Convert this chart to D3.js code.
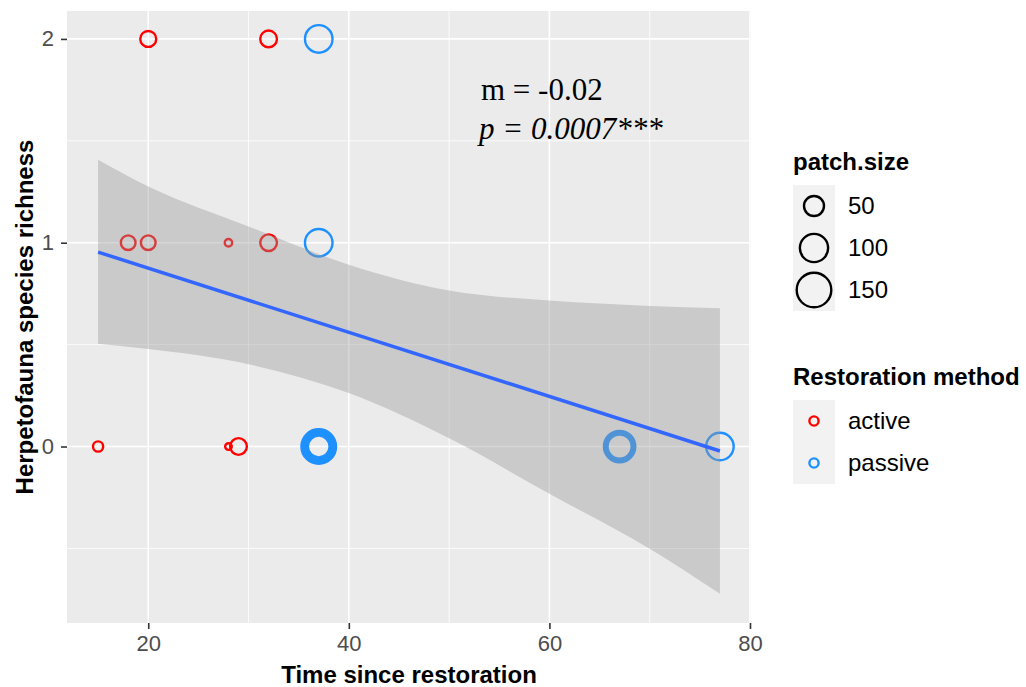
<!DOCTYPE html>
<html>
<head>
<meta charset="utf-8">
<script src="https://cdn.jsdelivr.net/npm/d3@7"></script>
<style>
  html, body { margin: 0; padding: 0; background: #ffffff; }
  svg { display: block; }
  text { font-family: "Liberation Sans", Arial, sans-serif; }
</style>
</head>
<body>
<svg id="chart" width="1026" height="687"></svg>
<script>
// Sites: time since restoration (years), herpetofauna species richness,
// patch size and restoration method.
const siteTime     = [20, 32, 18, 20, 28, 32, 15, 28, 29, 37, 37, 37, 37, 37, 37, 37, 67, 67, 67, 77];
const siteRichness = [ 2,  2,  1,  1,  1,  1,  0,  0,  0,  2,  1,  0,  0,  0,  0,  0,  0,  0,  0,  0];
const sitePatch    = [32, 35, 27, 27,  7, 35, 13, 5.5, 35, 95, 95, 150, 124, 100, 78, 59, 123, 96, 73, 95];
const siteMethod   = ["active","active","active","active","active","active","active","active","active",
                      "passive","passive","passive","passive","passive","passive","passive",
                      "passive","passive","passive","passive"];

// Linear fit and its confidence band.
const fitX   = [15, 77];
const fitY   = [0.954, -0.022];
const bandX  = [15, 20, 30, 40, 50, 60, 70, 77];
const bandHi = [1.407, 1.276, 1.08, 0.892, 0.765, 0.716, 0.690, 0.679];
const bandLo = [0.504, 0.478, 0.404, 0.262, 0.040, -0.232, -0.502, -0.723];

// Axis ticks and legend entries.
const xTicks = [20, 40, 60, 80];
const xMinor = [30, 50, 70];
const yTicks = [0, 1, 2];
const yMinor = [-0.5, 0.5, 1.5];
const sizeBreaks = [50, 100, 150];
const methods = ["active", "passive"];
const methodColors = ["#FF0000", "#1E90FF"];

const annotationSlope = "m = -0.02";
const annotationP = "p = 0.0007***";

const svg = d3.select("#chart");
const panel = { left: 67, right: 751, top: 11, bottom: 623 };

const x = d3.scaleLinear().domain([11.9, 80.1]).range([panel.left, panel.right]);
const y = d3.scaleLinear().domain([-0.866, 2.137]).range([panel.bottom, panel.top]);
const r = d3.scaleSqrt().domain([0, 150]).range([0, 17.3]);
const color = d3.scaleOrdinal().domain(methods).range(methodColors);

// Panel background
svg.append("rect")
  .attr("x", panel.left).attr("y", panel.top)
  .attr("width", panel.right - panel.left).attr("height", panel.bottom - panel.top)
  .attr("fill", "#EBEBEB");

const grid = svg.append("g");
grid.selectAll("line.xmin").data(xMinor).join("line")
  .attr("x1", d => x(d)).attr("x2", d => x(d))
  .attr("y1", panel.top).attr("y2", panel.bottom)
  .attr("stroke", "#fff").attr("stroke-width", 0.8);
grid.selectAll("line.ymin").data(yMinor).join("line")
  .attr("y1", d => y(d)).attr("y2", d => y(d))
  .attr("x1", panel.left).attr("x2", panel.right)
  .attr("stroke", "#fff").attr("stroke-width", 0.8);
grid.selectAll("line.xmaj").data(xTicks).join("line")
  .attr("x1", d => x(d)).attr("x2", d => x(d))
  .attr("y1", panel.top).attr("y2", panel.bottom)
  .attr("stroke", "#fff").attr("stroke-width", 1.6);
grid.selectAll("line.ymaj").data(yTicks).join("line")
  .attr("y1", d => y(d)).attr("y2", d => y(d))
  .attr("x1", panel.left).attr("x2", panel.right)
  .attr("stroke", "#fff").attr("stroke-width", 1.6);

// Points
const sites = siteTime.map((t, i) => ({
  t, rich: siteRichness[i], patch: sitePatch[i], method: siteMethod[i]
}));
svg.append("g").selectAll("circle").data(sites).join("circle")
  .attr("cx", d => x(d.t)).attr("cy", d => y(d.rich))
  .attr("r", d => r(d.patch))
  .attr("fill", "none")
  .attr("stroke", d => color(d.method))
  .attr("stroke-width", 2.4);

// Confidence band over the points
const band = bandX.map((v, i) => ({ x: v, lo: bandLo[i], hi: bandHi[i] }));
svg.append("path").datum(band)
  .attr("d", d3.area().x(d => x(d.x)).y0(d => y(d.lo)).y1(d => y(d.hi)).curve(d3.curveMonotoneX))
  .attr("fill", "#999999").attr("fill-opacity", 0.4);

// Fitted line
const fit = fitX.map((v, i) => ({ x: v, y: fitY[i] }));
svg.append("path").datum(fit)
  .attr("d", d3.line().x(d => x(d.x)).y(d => y(d.y)))
  .attr("fill", "none").attr("stroke", "#3366FF").attr("stroke-width", 3.5);

// Axes
const xAxis = svg.append("g").attr("transform", `translate(0,${panel.bottom})`)
  .call(d3.axisBottom(x).tickValues(xTicks).tickFormat(d3.format("d")).tickSize(6).tickPadding(6));
const yAxis = svg.append("g").attr("transform", `translate(${panel.left},0)`)
  .call(d3.axisLeft(y).tickValues(yTicks).tickFormat(d3.format("d")).tickSize(6).tickPadding(7));
[xAxis, yAxis].forEach(a => {
  a.select(".domain").remove();
  a.selectAll(".tick line").attr("stroke", "#333333").attr("stroke-width", 1.6);
  a.selectAll(".tick text").attr("fill", "#4D4D4D")
    .style("font-family", "'Liberation Sans', Arial, sans-serif").style("font-size", "22px");
});

svg.append("text")
  .attr("x", (panel.left + panel.right) / 2).attr("y", 683)
  .attr("text-anchor", "middle").attr("font-weight", "bold").attr("font-size", 24)
  .attr("fill", "#000").text("Time since restoration");
svg.append("text")
  .attr("transform", `translate(33,${(panel.top + panel.bottom) / 2}) rotate(-90)`)
  .attr("text-anchor", "middle").attr("font-weight", "bold").attr("font-size", 24)
  .attr("fill", "#000").text("Herpetofauna species richness");

// Annotation
svg.append("text").attr("x", 481).attr("y", 100)
  .style("font-family", "'Liberation Serif', 'Times New Roman', serif")
  .attr("font-size", 31).attr("fill", "#000")
  .text(annotationSlope);
svg.append("text").attr("x", 479).attr("y", 139)
  .style("font-family", "'Liberation Serif', 'Times New Roman', serif")
  .attr("font-size", 31).attr("font-style", "italic").attr("fill", "#000")
  .text(annotationP);

// Legend: patch size
const legX = 793, keyW = 42, keyH = 42;
svg.append("text").attr("x", legX).attr("y", 170)
  .attr("font-weight", "bold").attr("font-size", 24).text("patch.size");
const sizeLeg = svg.append("g").attr("transform", `translate(${legX},185)`);
sizeBreaks.forEach((b, i) => {
  sizeLeg.append("rect").attr("x", 0).attr("y", i * keyH).attr("width", keyW).attr("height", keyH)
    .attr("fill", "#F2F2F2");
  sizeLeg.append("circle").attr("cx", keyW / 2).attr("cy", i * keyH + keyH / 2).attr("r", r(b))
    .attr("fill", "none").attr("stroke", "#000").attr("stroke-width", 2.4);
  sizeLeg.append("text").attr("x", keyW + 13).attr("y", i * keyH + keyH / 2 + 8)
    .attr("font-size", 24).attr("fill", "#000").text(b);
});

// Legend: restoration method
svg.append("text").attr("x", legX).attr("y", 385)
  .attr("font-weight", "bold").attr("font-size", 24).text("Restoration method");
const methLeg = svg.append("g").attr("transform", `translate(${legX},400)`);
methods.forEach((m, i) => {
  methLeg.append("rect").attr("x", 0).attr("y", i * keyH).attr("width", keyW).attr("height", keyH)
    .attr("fill", "#F2F2F2");
  methLeg.append("circle").attr("cx", keyW / 2).attr("cy", i * keyH + keyH / 2).attr("r", 4.6)
    .attr("fill", "none").attr("stroke", color(m)).attr("stroke-width", 2.4);
  methLeg.append("text").attr("x", keyW + 13).attr("y", i * keyH + keyH / 2 + 8)
    .attr("font-size", 24).attr("fill", "#000").text(m);
});
</script>
</body>
</html>
